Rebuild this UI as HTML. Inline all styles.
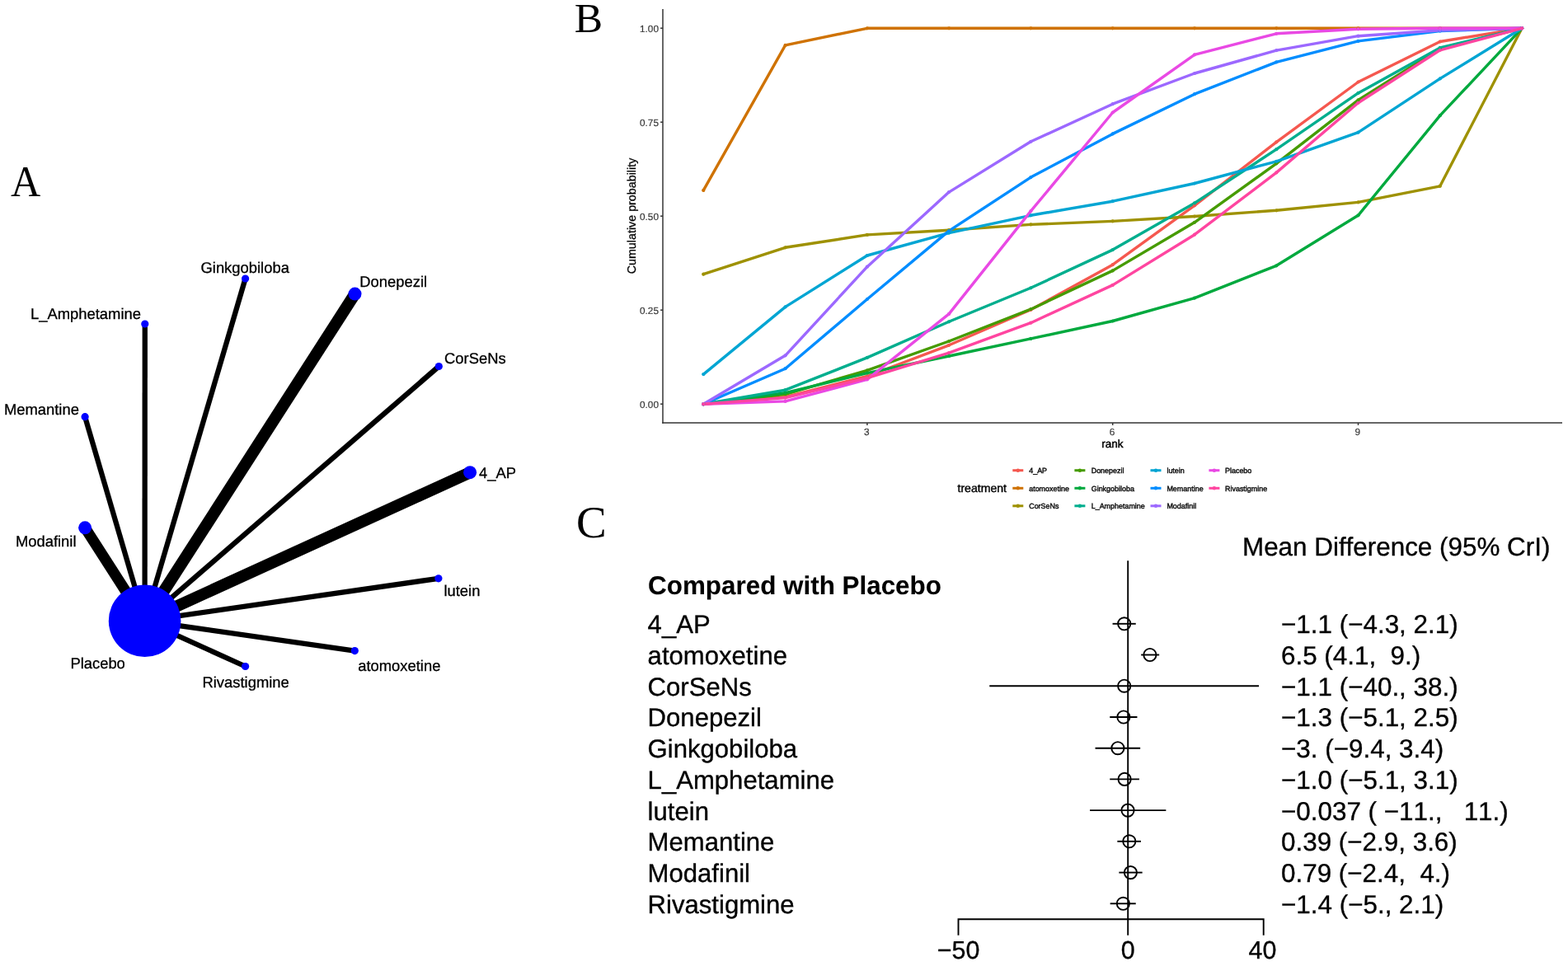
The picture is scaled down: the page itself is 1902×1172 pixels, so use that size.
<!DOCTYPE html>
<html lang="en"><head><meta charset="utf-8"><title>Network meta-analysis figure</title>
<style>
html,body{margin:0;padding:0;background:#fff;}
body{width:1902px;height:1172px;overflow:hidden;}
svg{display:block;}
.sans{font-family:"Liberation Sans",Arial,Helvetica,sans-serif;font-kerning:none;font-feature-settings:"kern" 0,"liga" 0;text-rendering:geometricPrecision;}
.serif{font-family:"Liberation Serif","Times New Roman",Times,serif;}
.pl{font-size:51.5px;fill:#000;}
.nl{font-size:18.4px;fill:#000;stroke:#000;stroke-width:0.3px;}
.at{font-size:11.8px;fill:#3a3a3a;stroke:#3a3a3a;stroke-width:0.2px;}
.ax{font-size:14.3px;fill:#000;stroke:#000;stroke-width:0.3px;}
.lg{font-size:8.95px;fill:#111;stroke:#111;stroke-width:0.45px;}
.fr{font-size:31.4px;fill:#000;stroke:#000;stroke-width:0.35px;}
.fl{font-size:31.1px;}
</style></head><body>
<svg width="1902" height="1172" viewBox="0 0 1902 1172" role="img" aria-label="Network plot, cumulative ranking curves and forest plot">
<rect x="0" y="0" width="1902" height="1172" fill="#ffffff"/>
<g class="serif pl">
<text x="12.9" y="237.7" style="font-size:52.6px" textLength="36.3" lengthAdjust="spacingAndGlyphs">A</text>
<text x="696.8" y="39.4">B</text>
<text x="699.0" y="651.7" style="font-size:55px">C</text>
</g>
<g id="network">
<g stroke="#000" stroke-linecap="butt" fill="none">
<line x1="297.6" y1="338.0" x2="175.6" y2="753.2" stroke-width="6.3"/>
<line x1="430.5" y1="356.6" x2="175.6" y2="753.2" stroke-width="14.3"/>
<line x1="175.8" y1="393.0" x2="175.6" y2="753.2" stroke-width="6.3"/>
<line x1="532.3" y1="444.5" x2="175.6" y2="753.2" stroke-width="6.3"/>
<line x1="103.1" y1="505.7" x2="175.6" y2="753.2" stroke-width="6.3"/>
<line x1="570.1" y1="573.2" x2="175.6" y2="753.2" stroke-width="14.3"/>
<line x1="103.1" y1="640.3" x2="175.6" y2="753.2" stroke-width="13.2"/>
<line x1="531.9" y1="701.8" x2="175.6" y2="753.2" stroke-width="6.3"/>
<line x1="430.3" y1="789.6" x2="175.6" y2="753.2" stroke-width="6.3"/>
<line x1="297.6" y1="808.5" x2="175.6" y2="753.2" stroke-width="6.3"/>
</g>
<g fill="#0000ff">
<circle cx="297.6" cy="338.0" r="4.6"/>
<circle cx="430.5" cy="356.6" r="8.0"/>
<circle cx="175.8" cy="393.0" r="4.6"/>
<circle cx="532.3" cy="444.5" r="4.6"/>
<circle cx="103.1" cy="505.7" r="4.6"/>
<circle cx="570.1" cy="573.2" r="8.0"/>
<circle cx="103.1" cy="640.3" r="8.0"/>
<circle cx="531.9" cy="701.8" r="4.6"/>
<circle cx="430.3" cy="789.6" r="4.6"/>
<circle cx="297.6" cy="808.5" r="4.6"/>
<circle cx="175.6" cy="753.2" r="43.8"/>
</g>
<g class="sans nl">
<text x="243.5" y="330.8">Ginkgobiloba</text>
<text x="436.3" y="348.0">Donepezil</text>
<text x="37.0" y="387.0">L_Amphetamine</text>
<text x="539.0" y="441.2">CorSeNs</text>
<text x="4.9" y="502.9">Memantine</text>
<text x="581.1" y="580.0">4_AP</text>
<text x="18.9" y="663.3">Modafinil</text>
<text x="538.4" y="723.2">lutein</text>
<text x="434.2" y="814.3">atomoxetine</text>
<text x="245.5" y="833.9">Rivastigmine</text>
<text x="85.4" y="811.1">Placebo</text>
</g></g>
<g id="sucra">
<g fill="none" stroke-width="3.4" stroke-linejoin="round" stroke-linecap="round">
<polyline stroke="#F5584F" points="853.3,490.3 952.6,481.6 1051.9,456.5 1151.1,418.8 1250.4,375.8 1349.7,321.2 1449.0,249.3 1548.3,172.3 1647.5,99.5 1746.8,50.5 1846.1,34.3"/>
<polyline stroke="#CF7200" points="853.3,230.9 952.6,54.9 1051.9,34.3 1151.1,34.3 1250.4,34.3 1349.7,34.3 1449.0,34.3 1548.3,34.3 1647.5,34.3 1746.8,34.3 1846.1,34.3"/>
<polyline stroke="#9E9100" points="853.3,332.7 952.6,300.3 1051.9,284.9 1151.1,279.2 1250.4,272.4 1349.7,268.4 1449.0,262.5 1548.3,255.3 1647.5,245.4 1746.8,225.8 1846.1,34.3"/>
<polyline stroke="#469B00" points="853.3,490.3 952.6,478.3 1051.9,449.3 1151.1,414.0 1250.4,375.2 1349.7,328.4 1449.0,269.8 1548.3,198.3 1647.5,121.4 1746.8,59.0 1846.1,34.3"/>
<polyline stroke="#00A93E" points="853.3,490.3 952.6,476.6 1051.9,452.6 1151.1,432.0 1250.4,410.9 1349.7,389.5 1449.0,361.6 1548.3,322.3 1647.5,261.3 1746.8,140.2 1846.1,34.3"/>
<polyline stroke="#00AE8E" points="853.3,490.3 952.6,473.2 1051.9,433.9 1151.1,390.3 1250.4,349.3 1349.7,303.1 1449.0,246.4 1548.3,181.2 1647.5,112.9 1746.8,57.9 1846.1,34.3"/>
<polyline stroke="#00A5D3" points="853.3,454.1 952.6,372.4 1051.9,310.0 1151.1,282.6 1250.4,261.3 1349.7,244.2 1449.0,222.5 1548.3,195.8 1647.5,160.7 1746.8,95.4 1846.1,34.3"/>
<polyline stroke="#008DFF" points="853.3,490.3 952.6,447.2 1051.9,363.0 1151.1,280.1 1250.4,215.1 1349.7,162.4 1449.0,114.2 1548.3,75.3 1647.5,49.9 1746.8,37.6 1846.1,34.3"/>
<polyline stroke="#9C68FF" points="853.3,490.3 952.6,431.3 1051.9,323.7 1151.1,233.1 1250.4,171.8 1349.7,126.2 1449.0,89.0 1548.3,61.1 1647.5,43.7 1746.8,36.8 1846.1,34.3"/>
<polyline stroke="#E949E4" points="853.3,490.3 952.6,486.9 1051.9,460.4 1151.1,380.9 1250.4,256.1 1349.7,136.5 1449.0,66.4 1548.3,40.8 1647.5,35.3 1746.8,34.3 1846.1,34.3"/>
<polyline stroke="#FF45A0" points="853.3,490.3 952.6,482.6 1051.9,458.6 1151.1,428.1 1250.4,391.7 1349.7,345.9 1449.0,284.7 1548.3,209.4 1647.5,124.8 1746.8,60.8 1846.1,34.3"/>
</g>
<g fill="#F5584F"><circle cx="853.3" cy="490.3" r="2.1"/><circle cx="952.6" cy="481.6" r="2.1"/><circle cx="1051.9" cy="456.5" r="2.1"/><circle cx="1151.1" cy="418.8" r="2.1"/><circle cx="1250.4" cy="375.8" r="2.1"/><circle cx="1349.7" cy="321.2" r="2.1"/><circle cx="1449.0" cy="249.3" r="2.1"/><circle cx="1548.3" cy="172.3" r="2.1"/><circle cx="1647.5" cy="99.5" r="2.1"/><circle cx="1746.8" cy="50.5" r="2.1"/><circle cx="1846.1" cy="34.3" r="2.1"/></g>
<g fill="#CF7200"><circle cx="853.3" cy="230.9" r="2.1"/><circle cx="952.6" cy="54.9" r="2.1"/><circle cx="1051.9" cy="34.3" r="2.1"/><circle cx="1151.1" cy="34.3" r="2.1"/><circle cx="1250.4" cy="34.3" r="2.1"/><circle cx="1349.7" cy="34.3" r="2.1"/><circle cx="1449.0" cy="34.3" r="2.1"/><circle cx="1548.3" cy="34.3" r="2.1"/><circle cx="1647.5" cy="34.3" r="2.1"/><circle cx="1746.8" cy="34.3" r="2.1"/><circle cx="1846.1" cy="34.3" r="2.1"/></g>
<g fill="#9E9100"><circle cx="853.3" cy="332.7" r="2.1"/><circle cx="952.6" cy="300.3" r="2.1"/><circle cx="1051.9" cy="284.9" r="2.1"/><circle cx="1151.1" cy="279.2" r="2.1"/><circle cx="1250.4" cy="272.4" r="2.1"/><circle cx="1349.7" cy="268.4" r="2.1"/><circle cx="1449.0" cy="262.5" r="2.1"/><circle cx="1548.3" cy="255.3" r="2.1"/><circle cx="1647.5" cy="245.4" r="2.1"/><circle cx="1746.8" cy="225.8" r="2.1"/><circle cx="1846.1" cy="34.3" r="2.1"/></g>
<g fill="#469B00"><circle cx="853.3" cy="490.3" r="2.1"/><circle cx="952.6" cy="478.3" r="2.1"/><circle cx="1051.9" cy="449.3" r="2.1"/><circle cx="1151.1" cy="414.0" r="2.1"/><circle cx="1250.4" cy="375.2" r="2.1"/><circle cx="1349.7" cy="328.4" r="2.1"/><circle cx="1449.0" cy="269.8" r="2.1"/><circle cx="1548.3" cy="198.3" r="2.1"/><circle cx="1647.5" cy="121.4" r="2.1"/><circle cx="1746.8" cy="59.0" r="2.1"/><circle cx="1846.1" cy="34.3" r="2.1"/></g>
<g fill="#00A93E"><circle cx="853.3" cy="490.3" r="2.1"/><circle cx="952.6" cy="476.6" r="2.1"/><circle cx="1051.9" cy="452.6" r="2.1"/><circle cx="1151.1" cy="432.0" r="2.1"/><circle cx="1250.4" cy="410.9" r="2.1"/><circle cx="1349.7" cy="389.5" r="2.1"/><circle cx="1449.0" cy="361.6" r="2.1"/><circle cx="1548.3" cy="322.3" r="2.1"/><circle cx="1647.5" cy="261.3" r="2.1"/><circle cx="1746.8" cy="140.2" r="2.1"/><circle cx="1846.1" cy="34.3" r="2.1"/></g>
<g fill="#00AE8E"><circle cx="853.3" cy="490.3" r="2.1"/><circle cx="952.6" cy="473.2" r="2.1"/><circle cx="1051.9" cy="433.9" r="2.1"/><circle cx="1151.1" cy="390.3" r="2.1"/><circle cx="1250.4" cy="349.3" r="2.1"/><circle cx="1349.7" cy="303.1" r="2.1"/><circle cx="1449.0" cy="246.4" r="2.1"/><circle cx="1548.3" cy="181.2" r="2.1"/><circle cx="1647.5" cy="112.9" r="2.1"/><circle cx="1746.8" cy="57.9" r="2.1"/><circle cx="1846.1" cy="34.3" r="2.1"/></g>
<g fill="#00A5D3"><circle cx="853.3" cy="454.1" r="2.1"/><circle cx="952.6" cy="372.4" r="2.1"/><circle cx="1051.9" cy="310.0" r="2.1"/><circle cx="1151.1" cy="282.6" r="2.1"/><circle cx="1250.4" cy="261.3" r="2.1"/><circle cx="1349.7" cy="244.2" r="2.1"/><circle cx="1449.0" cy="222.5" r="2.1"/><circle cx="1548.3" cy="195.8" r="2.1"/><circle cx="1647.5" cy="160.7" r="2.1"/><circle cx="1746.8" cy="95.4" r="2.1"/><circle cx="1846.1" cy="34.3" r="2.1"/></g>
<g fill="#008DFF"><circle cx="853.3" cy="490.3" r="2.1"/><circle cx="952.6" cy="447.2" r="2.1"/><circle cx="1051.9" cy="363.0" r="2.1"/><circle cx="1151.1" cy="280.1" r="2.1"/><circle cx="1250.4" cy="215.1" r="2.1"/><circle cx="1349.7" cy="162.4" r="2.1"/><circle cx="1449.0" cy="114.2" r="2.1"/><circle cx="1548.3" cy="75.3" r="2.1"/><circle cx="1647.5" cy="49.9" r="2.1"/><circle cx="1746.8" cy="37.6" r="2.1"/><circle cx="1846.1" cy="34.3" r="2.1"/></g>
<g fill="#9C68FF"><circle cx="853.3" cy="490.3" r="2.1"/><circle cx="952.6" cy="431.3" r="2.1"/><circle cx="1051.9" cy="323.7" r="2.1"/><circle cx="1151.1" cy="233.1" r="2.1"/><circle cx="1250.4" cy="171.8" r="2.1"/><circle cx="1349.7" cy="126.2" r="2.1"/><circle cx="1449.0" cy="89.0" r="2.1"/><circle cx="1548.3" cy="61.1" r="2.1"/><circle cx="1647.5" cy="43.7" r="2.1"/><circle cx="1746.8" cy="36.8" r="2.1"/><circle cx="1846.1" cy="34.3" r="2.1"/></g>
<g fill="#E949E4"><circle cx="853.3" cy="490.3" r="2.1"/><circle cx="952.6" cy="486.9" r="2.1"/><circle cx="1051.9" cy="460.4" r="2.1"/><circle cx="1151.1" cy="380.9" r="2.1"/><circle cx="1250.4" cy="256.1" r="2.1"/><circle cx="1349.7" cy="136.5" r="2.1"/><circle cx="1449.0" cy="66.4" r="2.1"/><circle cx="1548.3" cy="40.8" r="2.1"/><circle cx="1647.5" cy="35.3" r="2.1"/><circle cx="1746.8" cy="34.3" r="2.1"/><circle cx="1846.1" cy="34.3" r="2.1"/></g>
<g fill="#FF45A0"><circle cx="853.3" cy="490.3" r="2.1"/><circle cx="952.6" cy="482.6" r="2.1"/><circle cx="1051.9" cy="458.6" r="2.1"/><circle cx="1151.1" cy="428.1" r="2.1"/><circle cx="1250.4" cy="391.7" r="2.1"/><circle cx="1349.7" cy="345.9" r="2.1"/><circle cx="1449.0" cy="284.7" r="2.1"/><circle cx="1548.3" cy="209.4" r="2.1"/><circle cx="1647.5" cy="124.8" r="2.1"/><circle cx="1746.8" cy="60.8" r="2.1"/><circle cx="1846.1" cy="34.3" r="2.1"/></g>
<g stroke="#333" stroke-width="1.5" fill="none">
<line x1="804.0" y1="11.0" x2="804.0" y2="513.8"/>
<line x1="803.2" y1="513.0" x2="1895.0" y2="513.0"/>
<line x1="801.1" y1="34.2" x2="804.0" y2="34.2"/>
<line x1="801.1" y1="148.2" x2="804.0" y2="148.2"/>
<line x1="801.1" y1="262.2" x2="804.0" y2="262.2"/>
<line x1="801.1" y1="376.2" x2="804.0" y2="376.2"/>
<line x1="801.1" y1="490.2" x2="804.0" y2="490.2"/>
<line x1="1051.9" y1="513.0" x2="1051.9" y2="515.9"/>
<line x1="1349.7" y1="513.0" x2="1349.7" y2="515.9"/>
<line x1="1647.5" y1="513.0" x2="1647.5" y2="515.9"/>
</g>
<g class="sans at" text-anchor="end">
<text x="799.0" y="38.8">1.00</text>
<text x="799.0" y="152.8">0.75</text>
<text x="799.0" y="266.8">0.50</text>
<text x="799.0" y="380.8">0.25</text>
<text x="799.0" y="494.8">0.00</text>
</g>
<g class="sans at" text-anchor="middle">
<text x="1051.3" y="527.6">3</text>
<text x="1349.1" y="527.6">6</text>
<text x="1646.9" y="527.6">9</text>
</g>
<text class="sans ax" text-anchor="middle" x="1349.4" y="542.9" style="font-size:13.5px;stroke-width:0.45px">rank</text>
<text class="sans ax" text-anchor="middle" transform="translate(771.4 262) rotate(-90)">Cumulative probability</text>
<text class="sans ax" x="1161.5" y="597.4" style="font-size:14.1px;stroke-width:0.4px">treatment</text>
<line x1="1228.3" y1="570.7" x2="1241.3" y2="570.7" stroke="#F5584F" stroke-width="3"/>
<circle cx="1234.8" cy="570.7" r="2.2" fill="#F5584F"/>
<text class="sans lg" x="1248.2" y="573.9">4_AP</text>
<line x1="1228.3" y1="592.3" x2="1241.3" y2="592.3" stroke="#CF7200" stroke-width="3"/>
<circle cx="1234.8" cy="592.3" r="2.2" fill="#CF7200"/>
<text class="sans lg" x="1248.2" y="595.5">atomoxetine</text>
<line x1="1228.3" y1="613.8" x2="1241.3" y2="613.8" stroke="#9E9100" stroke-width="3"/>
<circle cx="1234.8" cy="613.8" r="2.2" fill="#9E9100"/>
<text class="sans lg" x="1248.2" y="617.0">CorSeNs</text>
<line x1="1303.4" y1="570.7" x2="1316.4" y2="570.7" stroke="#469B00" stroke-width="3"/>
<circle cx="1309.9" cy="570.7" r="2.2" fill="#469B00"/>
<text class="sans lg" x="1323.7" y="573.9">Donepezil</text>
<line x1="1303.4" y1="592.3" x2="1316.4" y2="592.3" stroke="#00A93E" stroke-width="3"/>
<circle cx="1309.9" cy="592.3" r="2.2" fill="#00A93E"/>
<text class="sans lg" x="1323.7" y="595.5">Ginkgobiloba</text>
<line x1="1303.4" y1="613.8" x2="1316.4" y2="613.8" stroke="#00AE8E" stroke-width="3"/>
<circle cx="1309.9" cy="613.8" r="2.2" fill="#00AE8E"/>
<text class="sans lg" x="1323.7" y="617.0">L_Amphetamine</text>
<line x1="1395.5" y1="570.7" x2="1408.5" y2="570.7" stroke="#00A5D3" stroke-width="3"/>
<circle cx="1402.0" cy="570.7" r="2.2" fill="#00A5D3"/>
<text class="sans lg" x="1415.4" y="573.9">lutein</text>
<line x1="1395.5" y1="592.3" x2="1408.5" y2="592.3" stroke="#008DFF" stroke-width="3"/>
<circle cx="1402.0" cy="592.3" r="2.2" fill="#008DFF"/>
<text class="sans lg" x="1415.4" y="595.5">Memantine</text>
<line x1="1395.5" y1="613.8" x2="1408.5" y2="613.8" stroke="#9C68FF" stroke-width="3"/>
<circle cx="1402.0" cy="613.8" r="2.2" fill="#9C68FF"/>
<text class="sans lg" x="1415.4" y="617.0">Modafinil</text>
<line x1="1466.4" y1="570.7" x2="1479.4" y2="570.7" stroke="#E949E4" stroke-width="3"/>
<circle cx="1472.9" cy="570.7" r="2.2" fill="#E949E4"/>
<text class="sans lg" x="1486.0" y="573.9">Placebo</text>
<line x1="1466.4" y1="592.3" x2="1479.4" y2="592.3" stroke="#FF45A0" stroke-width="3"/>
<circle cx="1472.9" cy="592.3" r="2.2" fill="#FF45A0"/>
<text class="sans lg" x="1486.0" y="595.5">Rivastigmine</text>
</g>
<g id="forest">
<text class="sans fr" x="1507.0" y="674.4">Mean Difference (95% CrI)</text>
<text class="sans fr" font-weight="bold" x="786.1" y="720.6" style="stroke-width:0.1px">Compared with Placebo</text>
<g class="sans fr">
<text class="fl" x="785.6" y="768.2">4_AP</text>
<text x="1554.0" y="768.2" xml:space="preserve" style="white-space:pre">−1.1 (−4.3, 2.1)</text>
<text class="fl" x="785.6" y="805.9">atomoxetine</text>
<text x="1554.0" y="805.9" xml:space="preserve" style="white-space:pre">6.5 (4.1,  9.)</text>
<text class="fl" x="785.6" y="843.6">CorSeNs</text>
<text x="1554.0" y="843.6" xml:space="preserve" style="white-space:pre">−1.1 (−40., 38.)</text>
<text class="fl" x="785.6" y="881.4">Donepezil</text>
<text x="1554.0" y="881.4" xml:space="preserve" style="white-space:pre">−1.3 (−5.1, 2.5)</text>
<text class="fl" x="785.6" y="919.1">Ginkgobiloba</text>
<text x="1554.0" y="919.1" xml:space="preserve" style="white-space:pre">−3. (−9.4, 3.4)</text>
<text class="fl" x="785.6" y="956.8">L_Amphetamine</text>
<text x="1554.0" y="956.8" xml:space="preserve" style="white-space:pre">−1.0 (−5.1, 3.1)</text>
<text class="fl" x="785.6" y="994.5">lutein</text>
<text x="1554.0" y="994.5" xml:space="preserve" style="white-space:pre">−0.037 ( −11.,   11.)</text>
<text class="fl" x="785.6" y="1032.2">Memantine</text>
<text x="1554.0" y="1032.2" xml:space="preserve" style="white-space:pre">0.39 (−2.9, 3.6)</text>
<text class="fl" x="785.6" y="1070.0">Modafinil</text>
<text x="1554.0" y="1070.0" xml:space="preserve" style="white-space:pre">0.79 (−2.4,  4.)</text>
<text class="fl" x="785.6" y="1107.7">Rivastigmine</text>
<text x="1554.0" y="1107.7" xml:space="preserve" style="white-space:pre">−1.4 (−5., 2.1)</text>
</g>
<g stroke="#000" stroke-width="1.9" fill="none" stroke-linecap="square">
<line x1="1368.2" y1="681.2" x2="1368.2" y2="1133.7"/>
<line x1="1350.5" y1="756.8" x2="1376.8" y2="756.8"/>
<circle cx="1363.7" cy="756.8" r="7.6"/>
<line x1="1385.1" y1="794.5" x2="1405.2" y2="794.5"/>
<circle cx="1394.9" cy="794.5" r="7.6"/>
<line x1="1201.2" y1="832.2" x2="1526.1" y2="832.2"/>
<circle cx="1363.7" cy="832.2" r="7.6"/>
<line x1="1347.2" y1="870.0" x2="1378.5" y2="870.0"/>
<circle cx="1362.9" cy="870.0" r="7.6"/>
<line x1="1329.5" y1="907.7" x2="1382.2" y2="907.7"/>
<circle cx="1355.9" cy="907.7" r="7.6"/>
<line x1="1347.2" y1="945.4" x2="1381.0" y2="945.4"/>
<circle cx="1364.1" cy="945.4" r="7.6"/>
<line x1="1323.0" y1="983.1" x2="1413.4" y2="983.1"/>
<circle cx="1368.0" cy="983.1" r="7.6"/>
<line x1="1356.3" y1="1020.8" x2="1383.0" y2="1020.8"/>
<circle cx="1369.8" cy="1020.8" r="7.6"/>
<line x1="1358.3" y1="1058.6" x2="1384.7" y2="1058.6"/>
<circle cx="1371.4" cy="1058.6" r="7.6"/>
<line x1="1347.6" y1="1096.3" x2="1376.8" y2="1096.3"/>
<circle cx="1362.4" cy="1096.3" r="7.6"/>
<polyline points="1162.5,1133.7 1162.5,1115.2 1532.7,1115.2 1532.7,1133.7"/>
</g>
<g class="sans fr" text-anchor="middle" style="font-size:30.4px">
<text x="1162.6" y="1163.4">−50</text>
<text x="1368.2" y="1163.4">0</text>
<text x="1531.4" y="1163.4">40</text>
</g></g>
</svg></body></html>
